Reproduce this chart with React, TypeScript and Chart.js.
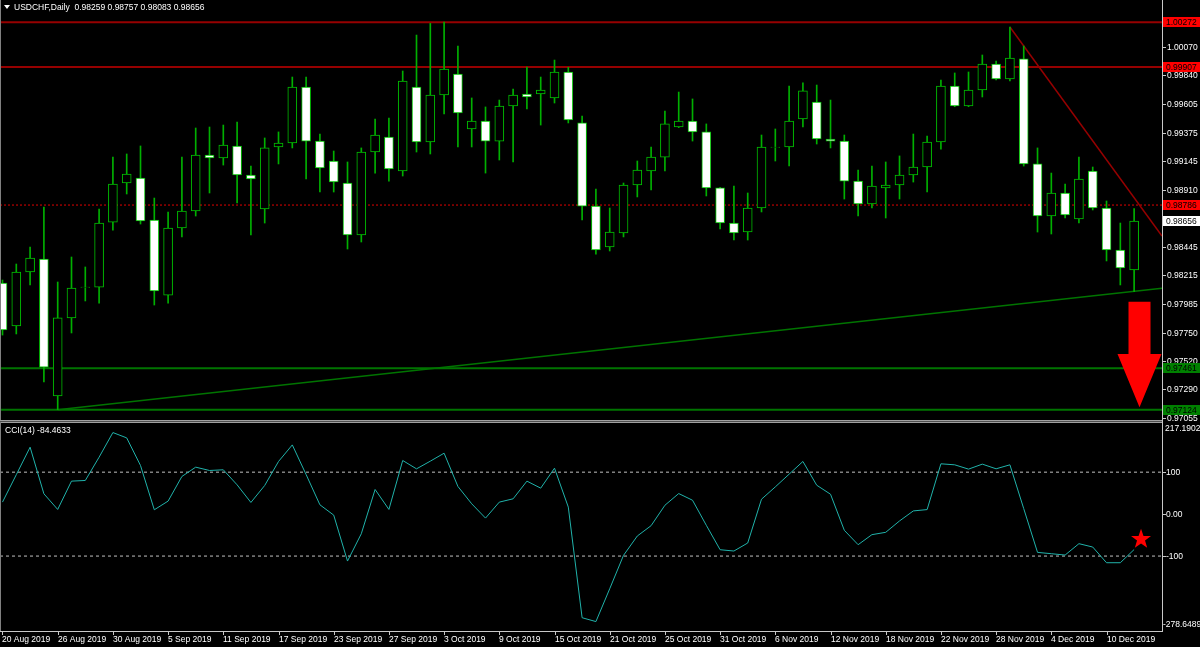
import React, { useEffect, useRef } from "react";
import { Chart, registerables } from "chart.js";

Chart.register(...registerables);

// ---------- data ----------
const symbolTitle = "USDCHF,Daily";

const dateLabels = [
  "20 Aug 2019", "26 Aug 2019", "30 Aug 2019", "5 Sep 2019", "11 Sep 2019", "17 Sep 2019",
  "23 Sep 2019", "27 Sep 2019", "3 Oct 2019", "9 Oct 2019", "15 Oct 2019", "21 Oct 2019",
  "25 Oct 2019", "31 Oct 2019", "6 Nov 2019", "12 Nov 2019", "18 Nov 2019", "22 Nov 2019",
  "28 Nov 2019", "4 Dec 2019", "10 Dec 2019",
];
const dateLabelBars = [0, 4, 8, 12, 16, 20, 24, 28, 32, 36, 40, 44, 48, 52, 56, 60, 64, 68, 72, 76, 80];

const opens = [
  0.98153, 0.97804, 0.98242, 0.98348, 0.97235, 0.97869, 0.98116, 0.98120, 0.98648, 0.98965,
  0.99006, 0.98665, 0.98055, 0.98600, 0.98738, 0.99193, 0.99168, 0.99266, 0.99030, 0.98754,
  0.99258, 0.99290, 0.99745, 0.99306, 0.99144, 0.98965, 0.98543, 0.99217, 0.99339, 0.99063,
  0.99745, 0.99298, 0.99680, 0.99851, 0.99404, 0.99469, 0.99306, 0.99591, 0.99688, 0.99688,
  0.99656, 0.99867, 0.99453, 0.98778, 0.98445, 0.98559, 0.98949, 0.99063, 0.99176, 0.99420,
  0.99469, 0.99380, 0.98925, 0.98640, 0.98567, 0.98762, 0.99254, 0.99258, 0.99485, 0.99623,
  0.99323, 0.99306, 0.98981, 0.98795, 0.98925, 0.98949, 0.99030, 0.99095, 0.99298, 0.99753,
  0.99591, 0.99721, 0.99932, 0.99810, 0.99973, 0.99120, 0.98697, 0.98884, 0.98673, 0.99063,
  0.98762, 0.98421, 0.98259,
];
const highs = [
  0.98177, 0.98307, 0.98445, 0.98770, 0.98161, 0.98364, 0.98283, 0.98754, 0.99176, 0.99201,
  0.99266, 0.98843, 0.98730, 0.99176, 0.99412, 0.99420, 0.99436, 0.99461, 0.99103, 0.99331,
  0.99380, 0.99826, 0.99826, 0.99363, 0.99225, 0.99136, 0.99250, 0.99485, 0.99493, 0.99875,
  1.00167, 1.00262, 1.00272, 1.00078, 0.99656, 0.99583, 0.99639, 0.99729, 0.99907, 0.99826,
  0.99964, 0.99905, 0.99509, 0.98916, 0.98762, 0.98965, 0.99144, 0.99258, 0.99550, 0.99704,
  0.99648, 0.99445, 0.98930, 0.98941, 0.98884, 0.99355, 0.99404, 0.99753, 0.99778, 0.99761,
  0.99639, 0.99355, 0.99071, 0.99103, 0.99136, 0.99185, 0.99363, 0.99347, 0.99802, 0.99859,
  0.99867, 1.00005, 0.99956, 1.00232, 1.00078, 0.99250, 0.99046, 0.98957, 0.99176, 0.99095,
  0.98819, 0.98640, 0.98757,
];
const lows = [
  0.97730, 0.97739, 0.98137, 0.97349, 0.97124, 0.97747, 0.98007, 0.97990, 0.98583, 0.98876,
  0.98632, 0.97974, 0.97990, 0.98527, 0.98697, 0.98884, 0.99111, 0.98803, 0.98543, 0.98640,
  0.99120, 0.99250, 0.98998, 0.98892, 0.98892, 0.98429, 0.98486, 0.99046, 0.98981, 0.99022,
  0.99217, 0.99201, 0.99526, 0.99258, 0.99258, 0.99046, 0.99152, 0.99136, 0.99566, 0.99436,
  0.99615, 0.99453, 0.98665, 0.98388, 0.98413, 0.98527, 0.98852, 0.98908, 0.99063, 0.99415,
  0.99306, 0.98860, 0.98592, 0.98502, 0.98502, 0.98730, 0.99144, 0.99103, 0.99420, 0.99282,
  0.99250, 0.98835, 0.98697, 0.98762, 0.98681, 0.98835, 0.98973, 0.98892, 0.99241, 0.99585,
  0.99585, 0.99664, 0.99802, 0.99794, 0.99103, 0.98567, 0.98551, 0.98681, 0.98640, 0.98746,
  0.98332, 0.98137, 0.98083,
];
const closes = [
  0.97771, 0.98242, 0.98356, 0.97470, 0.97869, 0.98112, 0.98120, 0.98640, 0.98957, 0.99038,
  0.98657, 0.98088, 0.98600, 0.98738, 0.99193, 0.99168, 0.99274, 0.99030, 0.98998, 0.99250,
  0.99290, 0.99745, 0.99306, 0.99087, 0.98973, 0.98543, 0.99217, 0.99355, 0.99079, 0.99794,
  0.99298, 0.99680, 0.99891, 0.99534, 0.99469, 0.99306, 0.99591, 0.99680, 0.99664, 0.99721,
  0.99867, 0.99477, 0.98778, 0.98421, 0.98567, 0.98949, 0.99071, 0.99176, 0.99445, 0.99469,
  0.99380, 0.98925, 0.98640, 0.98559, 0.98762, 0.99258, 0.99258, 0.99469, 0.99713, 0.99323,
  0.99306, 0.98981, 0.98795, 0.98941, 0.98949, 0.99030, 0.99095, 0.99298, 0.99753, 0.99591,
  0.99721, 0.99932, 0.99810, 0.99981, 0.99120, 0.98697, 0.98884, 0.98705, 0.98998, 0.98762,
  0.98421, 0.98275, 0.98656,
];

const cciValues = [
  28.6, 94.0, 159.5, 48.4, 11.1, 78.6, 80.2, 135.7, 194.4, 181.7,
  115.9, 10.3, 31.0, 89.7, 111.9, 104.0, 105.6, 69.8, 27.8, 68.3,
  125.4, 165.0, 94.4, 22.2, -2.4, -111.9, -46.8, 58.7, 11.1, 127.8,
  107.9, 126.2, 145.2, 65.9, 24.6, -9.5, 28.6, 36.5, 78.6, 61.9,
  109.5, 16.7, -247.0, -256.2, -178.0, -98.4, -52.2, -27.5, 21.1, 49.0,
  33.1, -26.7, -84.9, -88.0, -68.9, 35.5, 64.9, 95.2, 125.5, 68.9,
  47.4, -38.6, -72.9, -49.0, -43.4, -16.3, 7.6, 10.8, 119.9, 117.5,
  107.2, 119.1, 108.0, 117.5, 13.1, -91.2, -94.4, -97.6, -70.5, -78.5,
  -115.9, -115.9, -84.4633,
];

const priceTicks = [
  1.0007, 0.9984, 0.99605, 0.99375, 0.99145, 0.9891, 0.98445, 0.98215, 0.97985, 0.9775,
  0.9752, 0.9729, 0.97055,
];
const priceMin = 0.970481;
const priceMax = 1.004518;

const redLevels = [1.00272, 0.99907];
const dottedLevel = 0.98786;
const greenLevels = [0.97461, 0.97124];

const greenTrendBars = [4, 84.02];
const greenTrendPrices = [0.97124, 0.9811];
const redTrendBars = [73, 84.02];
const redTrendPrices = [1.00232, 0.98535];

const arrowBar = 82.39;
const arrowTopPrice = 0.98001;
const arrowNeckPrice = 0.97576;
const arrowTipPrice = 0.97143;

const cciPeriod = 14;
const cciMax = 217.1902;
const cciMin = -278.6489;
const cciLevels = [100, -100];
const cciTickValues = [100, 0, -100];
const cciTickTexts = ["100", "0.00", "-100"];
const starBar = 82.5;
const starValue = -60;

// ---------- view / style ----------
const X_MIN = -0.181;
const X_MAX = 84.02;
const FONT = '8.5px "Liberation Sans", Arial, sans-serif';
const AXIS_COLOR = "#c8c8c8";
const TEXT_COLOR = "#ffffff";
const CANDLE_EDGE = "#00c000";
const WICK = "#00b000";
const RED_LINE = "#960000";
const GREEN_LINE = "#007400";

const bars = opens.map((_, i) => i);

function levelLine(value: number, color: string, width: number, dash: number[] = []) {
  return {
    type: "line" as const,
    data: [
      { x: X_MIN, y: value },
      { x: X_MAX, y: value },
    ],
    borderColor: color,
    borderWidth: width,
    borderDash: dash,
    pointRadius: 0,
    fill: false,
    tension: 0,
  };
}

function priceBox(ctx: CanvasRenderingContext2D, y: number, text: string, bg: string, fg: string) {
  ctx.fillStyle = bg;
  ctx.fillRect(1163, Math.round(y) - 5, 37, 10);
  ctx.fillStyle = fg;
  ctx.textAlign = "left";
  ctx.textBaseline = "middle";
  ctx.fillText(text, 1166, Math.round(y) + 0.5);
}

const mainDecor = {
  id: "mainDecor",
  afterDatasetsDraw(chart: any) {
    const { ctx, scales } = chart;
    const xs = scales.x;
    const ys = scales.y;
    const cx = xs.getPixelForValue(arrowBar);
    const yTop = ys.getPixelForValue(arrowTopPrice);
    const yNeck = ys.getPixelForValue(arrowNeckPrice);
    const yTip = ys.getPixelForValue(arrowTipPrice);
    ctx.save();
    ctx.fillStyle = "#ff0000";
    ctx.beginPath();
    ctx.moveTo(cx - 11, yTop);
    ctx.lineTo(cx + 11, yTop);
    ctx.lineTo(cx + 11, yNeck);
    ctx.lineTo(cx + 22, yNeck);
    ctx.lineTo(cx, yTip);
    ctx.lineTo(cx - 22, yNeck);
    ctx.lineTo(cx - 11, yNeck);
    ctx.closePath();
    ctx.fill();
    ctx.restore();
  },
  afterDraw(chart: any) {
    const { ctx, scales, chartArea, height } = chart;
    const ys = scales.y;
    ctx.save();
    ctx.font = FONT;
    ctx.textBaseline = "middle";

    // header
    ctx.fillStyle = TEXT_COLOR;
    ctx.beginPath();
    ctx.moveTo(4, 5);
    ctx.lineTo(10, 5);
    ctx.lineTo(7, 9);
    ctx.closePath();
    ctx.fill();
    const last = opens.length - 1;
    const hdr =
      symbolTitle +
      "  " +
      [opens[last], highs[last], lows[last], closes[last]].map((v) => v.toFixed(5)).join(" ");
    ctx.textAlign = "left";
    ctx.fillText(hdr, 14, 7.5);

    // left border
    ctx.fillStyle = "#808080";
    ctx.fillRect(0, 0, 1, height);

    // right axis line
    ctx.fillStyle = AXIS_COLOR;
    ctx.fillRect(chartArea.right, 0, 1, height);

    // ticks + labels
    priceTicks.forEach((p) => {
      const y = Math.round(ys.getPixelForValue(p));
      ctx.fillStyle = AXIS_COLOR;
      ctx.fillRect(chartArea.right + 1, y, 3, 1);
      ctx.fillStyle = TEXT_COLOR;
      ctx.fillText(p.toFixed(5), 1167, y + 0.5);
    });

    // level price boxes
    redLevels.forEach((v) => priceBox(ctx, ys.getPixelForValue(v), v.toFixed(5), "#ff0000", "#000000"));
    priceBox(ctx, ys.getPixelForValue(dottedLevel), dottedLevel.toFixed(5), "#ff0000", "#000000");
    priceBox(ctx, ys.getPixelForValue(closes[last]), closes[last].toFixed(5), "#ffffff", "#000000");
    greenLevels.forEach((v) => priceBox(ctx, ys.getPixelForValue(v), v.toFixed(5), "#008000", "#000000"));

    // panel separator
    ctx.fillStyle = "#a0a0a0";
    ctx.fillRect(0, chartArea.bottom + 1, chartArea.right, 1);
    ctx.fillStyle = "#505050";
    ctx.fillRect(0, chartArea.bottom + 2, chartArea.right, 1);
    ctx.restore();
  },
};

function drawStar(ctx: CanvasRenderingContext2D, cx: number, cy: number, R: number, r: number) {
  ctx.beginPath();
  for (let k = 0; k < 10; k++) {
    const rad = k % 2 === 0 ? R : r;
    const a = -Math.PI / 2 + (k * Math.PI) / 5;
    const px = cx + rad * Math.cos(a);
    const py = cy + rad * Math.sin(a);
    if (k === 0) ctx.moveTo(px, py);
    else ctx.lineTo(px, py);
  }
  ctx.closePath();
  ctx.fill();
}

const cciDecor = {
  id: "cciDecor",
  afterDatasetsDraw(chart: any) {
    const { ctx, scales } = chart;
    ctx.save();
    ctx.fillStyle = "#ff0000";
    drawStar(ctx, scales.x.getPixelForValue(starBar), scales.y.getPixelForValue(starValue), 10.5, 4.2);
    ctx.restore();
  },
  afterDraw(chart: any) {
    const { ctx, scales, chartArea } = chart;
    const xs = scales.x;
    const ys = scales.y;
    ctx.save();
    ctx.font = FONT;
    ctx.textBaseline = "middle";
    ctx.textAlign = "left";

    // separator top line
    ctx.fillStyle = "#a0a0a0";
    ctx.fillRect(0, 0, chartArea.right, 1);

    // left border
    ctx.fillStyle = "#808080";
    ctx.fillRect(0, 0, 1, chartArea.bottom);

    // indicator label
    ctx.fillStyle = TEXT_COLOR;
    ctx.fillText(
      "CCI(" + cciPeriod + ") " + cciValues[cciValues.length - 1].toFixed(4),
      5,
      chartArea.top + 8
    );

    // axes
    ctx.fillStyle = AXIS_COLOR;
    ctx.fillRect(chartArea.right, 0, 1, chartArea.bottom + 1);
    ctx.fillRect(0, chartArea.bottom, chartArea.right + 1, 1);

    // right labels
    ctx.fillStyle = TEXT_COLOR;
    ctx.fillText(cciMax.toFixed(4), 1165, chartArea.top + 5.5);
    ctx.fillText(cciMin.toFixed(4), 1163, chartArea.bottom - 6.5);
    cciTickValues.forEach((v, k) => {
      const y = Math.round(ys.getPixelForValue(v));
      ctx.fillStyle = AXIS_COLOR;
      ctx.fillRect(chartArea.right + 1, y, 3, 1);
      ctx.fillStyle = TEXT_COLOR;
      ctx.fillText(cciTickTexts[k], 1166, y + 0.5);
    });

    // date axis
    dateLabelBars.forEach((b, k) => {
      const x = Math.round(xs.getPixelForValue(b));
      ctx.fillStyle = AXIS_COLOR;
      ctx.fillRect(x, chartArea.bottom + 1, 1, 3);
      ctx.fillStyle = TEXT_COLOR;
      ctx.fillText(dateLabels[k], x, chartArea.bottom + 8.5);
    });
    ctx.restore();
  },
};

export default function App() {
  const mainRef = useRef<HTMLCanvasElement>(null);
  const cciRef = useRef<HTMLCanvasElement>(null);

  useEffect(() => {
    document.body.style.margin = "0";
    document.body.style.background = "#000";

    const mainChart = new Chart(mainRef.current as HTMLCanvasElement, {
      type: "bar",
      data: {
        datasets: [
          {
            type: "bar",
            data: bars.map((i) => ({ x: i, y: [opens[i], closes[i]] })),
            backgroundColor: (c: any) =>
              closes[c.dataIndex] >= opens[c.dataIndex] ? "#000000" : "#ffffff",
            borderColor: CANDLE_EDGE,
            borderWidth: 1,
            borderSkipped: false,
            barThickness: 9,
            grouped: false,
          } as any,
          {
            type: "bar",
            data: bars.map((i) => ({ x: i, y: [lows[i], highs[i]] })),
            backgroundColor: WICK,
            borderWidth: 0,
            barThickness: 1,
            grouped: false,
          } as any,
          {
            type: "line",
            data: [
              { x: redTrendBars[0], y: redTrendPrices[0] },
              { x: redTrendBars[1], y: redTrendPrices[1] },
            ],
            borderColor: RED_LINE,
            borderWidth: 1.5,
            pointRadius: 0,
            tension: 0,
          } as any,
          {
            type: "line",
            data: [
              { x: greenTrendBars[0], y: greenTrendPrices[0] },
              { x: greenTrendBars[1], y: greenTrendPrices[1] },
            ],
            borderColor: GREEN_LINE,
            borderWidth: 1.5,
            pointRadius: 0,
            tension: 0,
          } as any,
          ...redLevels.map((v) => levelLine(v, RED_LINE, 2) as any),
          levelLine(dottedLevel, RED_LINE, 1.5, [2, 2]) as any,
          ...greenLevels.map((v) => levelLine(v, GREEN_LINE, 2) as any),
        ],
      },
      options: {
        responsive: false,
        animation: false,
        events: [],
        layout: { padding: { left: 0, right: 38, top: 0, bottom: 3 } },
        plugins: { legend: { display: false }, tooltip: { enabled: false } },
        scales: {
          x: { type: "linear", min: X_MIN, max: X_MAX, offset: false, display: false },
          y: { type: "linear", min: priceMin, max: priceMax, display: false },
        },
      },
      plugins: [mainDecor],
    } as any);

    const cciChart = new Chart(cciRef.current as HTMLCanvasElement, {
      type: "line",
      data: {
        datasets: [
          {
            data: bars.map((i) => ({ x: i, y: cciValues[i] })),
            borderColor: "#20b2aa",
            borderWidth: 1,
            pointRadius: 0,
            tension: 0,
          },
          ...cciLevels.map((v) => levelLine(v, "#c0c0c0", 1, [3, 3]) as any),
        ],
      },
      options: {
        responsive: false,
        animation: false,
        events: [],
        layout: { padding: { left: 0, right: 38, top: 1, bottom: 16 } },
        plugins: { legend: { display: false }, tooltip: { enabled: false } },
        scales: {
          x: { type: "linear", min: X_MIN, max: X_MAX, offset: false, display: false },
          y: { type: "linear", min: cciMin, max: cciMax, display: false },
        },
      },
      plugins: [cciDecor],
    } as any);

    return () => {
      mainChart.destroy();
      cciChart.destroy();
    };
  }, []);

  return (
    <div style={{ position: "relative", width: 1200, height: 647, background: "#000", overflow: "hidden" }}>
      <canvas ref={mainRef} width={1200} height={422} style={{ position: "absolute", left: 0, top: 0 }} />
      <canvas ref={cciRef} width={1200} height={225} style={{ position: "absolute", left: 0, top: 422 }} />
    </div>
  );
}
